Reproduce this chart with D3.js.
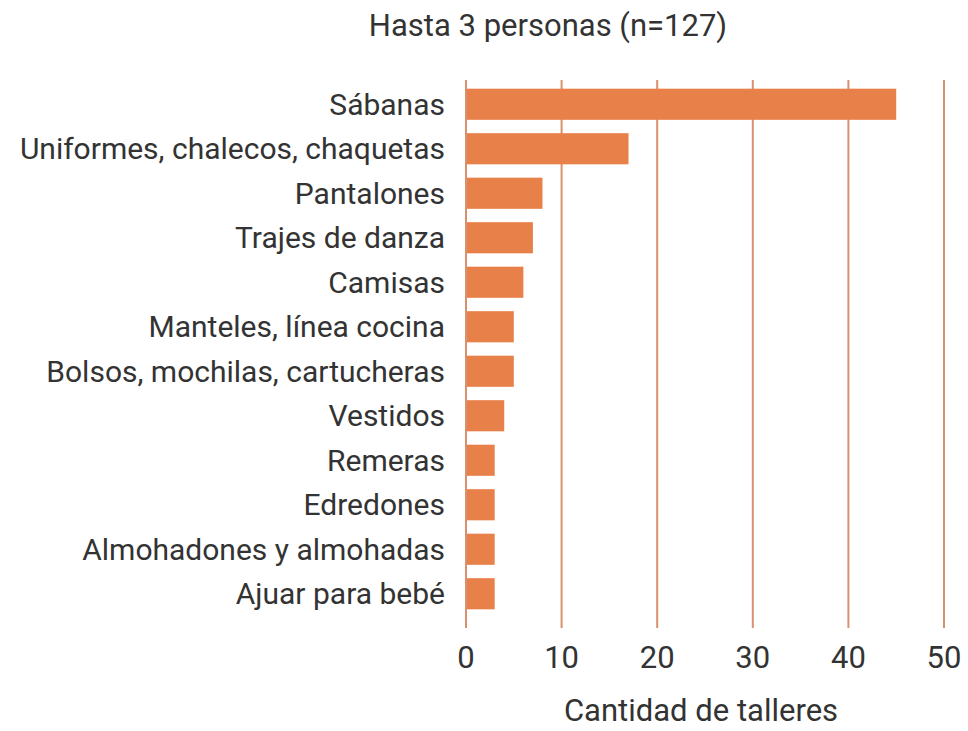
<!DOCTYPE html>
<html>
<head>
<meta charset="utf-8">
<script src="https://cdn.jsdelivr.net/npm/d3@7"></script>
<style>
  body { margin: 0; background: #fff; }
  text { font-family: Roboto, "Noto Sans", sans-serif; fill: #333; }
</style>
</head>
<body>
<div id="chart"></div>
<script>
(function() {
'use strict';

const categories = [
  'Sábanas',
  'Uniformes, chalecos, chaquetas',
  'Pantalones',
  'Trajes de danza',
  'Camisas',
  'Manteles, línea cocina',
  'Bolsos, mochilas, cartucheras',
  'Vestidos',
  'Remeras',
  'Edredones',
  'Almohadones y almohadas',
  'Ajuar para bebé'
];
const values = [45, 17, 8, 7, 6, 5, 5, 4, 3, 3, 3, 3];
const tickValues = [0, 10, 20, 30, 40, 50];
const title = 'Hasta 3 personas (n=127)';
const xTitle = 'Cantidad de talleres';

const width = 968;
const height = 731;
const barColor = '#e8804a';
const gridColor = '#d9906c';

const svg = d3.select('#chart')
  .append('svg')
  .attr('width', width)
  .attr('height', height);

const x = d3.scaleLinear()
  .domain([0, 50])
  .range([466, 944]);

const y = d3.scaleBand()
  .domain(categories)
  .range([82, 616])
  .paddingInner(0.3)
  .paddingOuter(0.15);

// gridlines
svg.append('g')
  .selectAll('line')
  .data(tickValues)
  .enter()
  .append('line')
  .attr('x1', d => x(d))
  .attr('x2', d => x(d))
  .attr('y1', 80)
  .attr('y2', 628)
  .attr('stroke', gridColor)
  .attr('stroke-width', 2);

// bars
svg.append('g')
  .selectAll('rect')
  .data(values)
  .enter()
  .append('rect')
  .attr('x', x(0) + 1)
  .attr('y', (d, i) => y(categories[i]))
  .attr('width', d => x(d) - x(0) - 1)
  .attr('height', y.bandwidth())
  .attr('fill', barColor);

// category labels
svg.append('g')
  .selectAll('text')
  .data(categories)
  .enter()
  .append('text')
  .attr('x', 445)
  .attr('y', d => y(d) + y.bandwidth() / 2)
  .attr('dy', '0.35em')
  .attr('text-anchor', 'end')
  .style('font-size', '30px')
  .text(d => d);

// x tick labels
svg.append('g')
  .selectAll('text')
  .data(tickValues)
  .enter()
  .append('text')
  .attr('x', d => x(d))
  .attr('y', 668)
  .attr('text-anchor', 'middle')
  .style('font-size', '31px')
  .text(d => d);

svg.append('text')
  .attr('x', 548)
  .attr('y', 36)
  .attr('text-anchor', 'middle')
  .style('font-size', '31px')
  .text(title);

svg.append('text')
  .attr('x', 701)
  .attr('y', 721)
  .attr('text-anchor', 'middle')
  .style('font-size', '31px')
  .text(xTitle);

})();
</script>
</body>
</html>
